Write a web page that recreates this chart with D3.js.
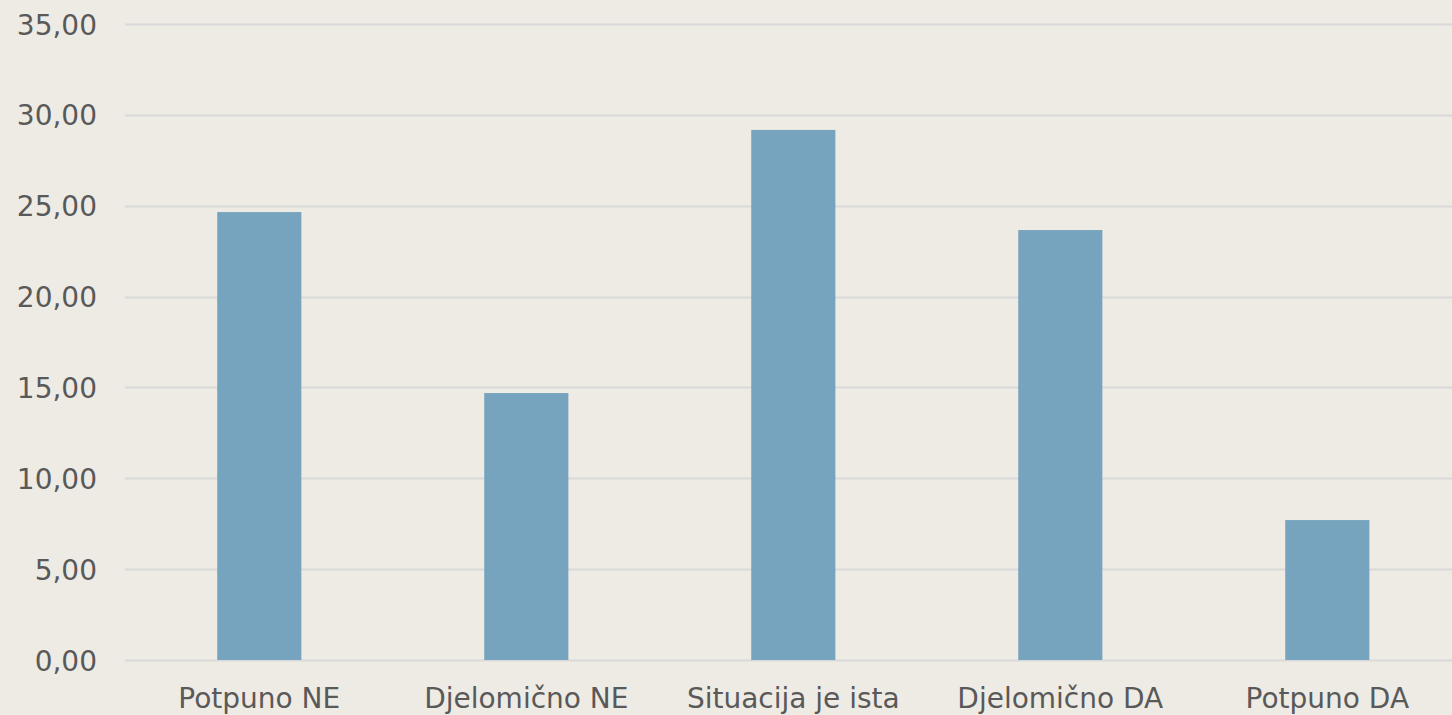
<!DOCTYPE html>
<html>
<head>
<meta charset="utf-8">
<script src="https://cdn.jsdelivr.net/npm/d3@7"></script>
<style>
  html, body { margin: 0; padding: 0; background: #EEEBE4; }
  svg { display: block; }
  text { font-family: "DejaVu Sans", sans-serif; fill: #595959; }
</style>
</head>
<body>
<div id="chart"></div>
<script>
const categories = ["Potpuno NE", "Djelomično NE", "Situacija je ista", "Djelomično DA", "Potpuno DA"];
const values = [24.65, 14.69, 29.17, 23.66, 7.70];
const yTicks = [0, 5, 10, 15, 20, 25, 30, 35];

const W = 1452, H = 715;
const margin = { left: 125, right: -8, top: 24, bottom: 55 };

const svg = d3.select("#chart").append("svg").attr("width", W).attr("height", H);
svg.append("rect").attr("width", W).attr("height", H).attr("fill", "#EEEBE4");

const x = d3.scaleBand().domain(categories)
  .range([margin.left + 0.8, W - margin.right + 0.8]).paddingInner(0.685).paddingOuter(0.3425);
const y = d3.scaleLinear().domain([0, 35]).range([H - margin.bottom, margin.top]);

const fmt = v => v.toFixed(2).replace(".", ",");

// gridlines
svg.append("g").selectAll("line").data(yTicks).join("line")
  .attr("x1", margin.left).attr("x2", W)
  .attr("y1", d => Math.round(y(d)) + 0.5).attr("y2", d => Math.round(y(d)) + 0.5)
  .attr("stroke", "#D9D9D9").attr("stroke-width", 2);

// y axis labels
const yAxis = d3.axisLeft(y).tickValues(yTicks).tickFormat(fmt).tickSize(0).tickPadding(0);
const gy = svg.append("g").attr("transform", "translate(97,0)").call(yAxis);
gy.select(".domain").remove();
gy.selectAll("text").attr("font-size", 28).attr("font-family", "DejaVu Sans").attr("fill", "#595959").attr("dy", "0.36em");

// bars
svg.append("g").selectAll("rect").data(values).join("rect")
  .attr("x", (d, i) => x(categories[i]))
  .attr("width", x.bandwidth())
  .attr("y", d => y(d))
  .attr("height", d => y(0) - y(d))
  .attr("fill", "#76A3BD");

// x axis labels
const xAxis = d3.axisBottom(x).tickSize(0).tickPadding(0);
const gx = svg.append("g").attr("transform", `translate(0,${H - margin.bottom})`).call(xAxis);
gx.select(".domain").remove();
gx.selectAll("text").attr("font-size", 28).attr("font-family", "DejaVu Sans").attr("fill", "#595959")
  .attr("dy", null).attr("y", 48);
</script>
</body>
</html>
